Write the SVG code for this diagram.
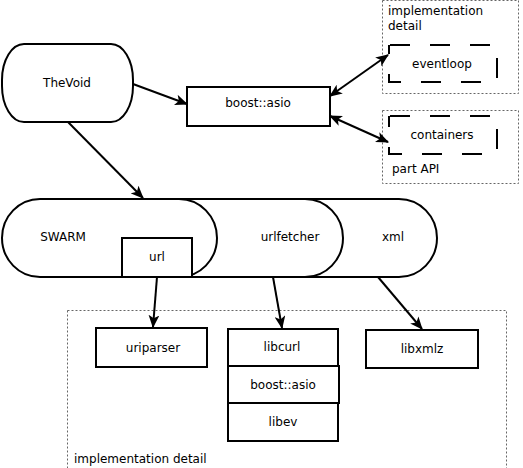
<svg xmlns="http://www.w3.org/2000/svg" width="523" height="468" viewBox="0 0 523 468">
<style>
text{font-family:"DejaVu Sans",sans-serif;font-size:12px;fill:#000}
.c{text-anchor:middle}
.box{fill:#fff;stroke:#000;stroke-width:2}
.pill{fill:#fff;stroke:#000;stroke-width:2}
.dash{fill:none;stroke:#000;stroke-width:2;stroke-dasharray:20,20;stroke-dashoffset:-1}
.dot{fill:none;stroke:#666;stroke-width:1;stroke-dasharray:2,2}
.ln{fill:none;stroke:#000;stroke-width:2}
</style>
<defs>
<marker id="ah" viewBox="0 0 12 10" refX="11" refY="5" markerWidth="13" markerHeight="11" markerUnits="userSpaceOnUse" orient="auto-start-reverse">
<path d="M0,0 L12,5 L0,10 L3,5 z" fill="#000"/>
</marker>
</defs>
<rect width="523" height="468" fill="#fff"/>
<g id="impl-top">
<rect class="dot" x="382.5" y="0.5" width="136" height="93"/>
<text x="388" y="15">implementation</text>
<text x="388" y="30">detail</text>
</g>
<g id="partapi">
<rect class="dot" x="382.5" y="110.5" width="136" height="73"/>
<text x="392" y="173">part API</text>
</g>
<g id="impl-bottom">
<rect class="dot" x="67.5" y="310.5" width="439" height="170"/>
<text x="74" y="463">implementation detail</text>
</g>
<g id="thevoid">
<rect class="pill" x="2" y="44" width="131" height="78" rx="22" ry="36"/>
<text class="c" x="67" y="87">TheVoid</text>
</g>
<g id="boostasio">
<rect class="box" x="187" y="87" width="143" height="39"/>
<text class="c" x="258" y="107">boost::asio</text>
</g>
<g id="eventloop">
<path class="dash" d="M389,45 H497 V82 H389 Z"/>
<text class="c" x="442" y="68">eventloop</text>
</g>
<g id="containers">
<path class="dash" d="M389,116 H497 V154 H389 Z"/>
<text class="c" x="442" y="139">containers</text>
</g>
<g id="xml">
<rect class="pill" x="220" y="199" width="217" height="78" rx="38" ry="39"/>
<text class="c" x="393" y="241">xml</text>
</g>
<g id="urlfetcher">
<rect class="pill" x="110" y="199" width="233" height="78" rx="38" ry="39"/>
<text class="c" x="290" y="241">urlfetcher</text>
</g>
<g id="swarm">
<rect class="pill" x="2" y="199" width="215" height="78" rx="38" ry="39"/>
<text class="c" x="63" y="241">SWARM</text>
</g>
<g id="url">
<rect class="box" x="122" y="238" width="70" height="39"/>
<text class="c" x="157" y="261">url</text>
</g>
<g id="uriparser">
<rect class="box" x="96" y="328" width="111" height="39"/>
<text class="c" x="153" y="352">uriparser</text>
</g>
<g id="libcurl">
<rect class="box" x="228" y="329" width="110" height="37"/>
<text class="c" x="282" y="351">libcurl</text>
</g>
<g id="boostasio2">
<rect class="box" x="228" y="366" width="111" height="37"/>
<text class="c" x="283" y="389">boost::asio</text>
</g>
<g id="libev">
<rect class="box" x="228" y="403" width="110" height="38"/>
<text class="c" x="283" y="426">libev</text>
</g>
<g id="libxmlz">
<rect class="box" x="366" y="330" width="112" height="38"/>
<text class="c" x="422" y="353">libxmlz</text>
</g>
<g id="connectors">
<line class="ln" x1="133" y1="84" x2="187" y2="104" marker-end="url(#ah)"/>
<line class="ln" x1="68" y1="122" x2="143" y2="198" marker-end="url(#ah)"/>
<line class="ln" x1="330" y1="96" x2="388" y2="55" marker-start="url(#ah)" marker-end="url(#ah)"/>
<line class="ln" x1="330" y1="116" x2="388" y2="142" marker-start="url(#ah)" marker-end="url(#ah)"/>
<line class="ln" x1="157" y1="277" x2="153" y2="327" marker-end="url(#ah)"/>
<line class="ln" x1="273" y1="277" x2="282" y2="328" marker-end="url(#ah)"/>
<line class="ln" x1="378" y1="277" x2="422" y2="329" marker-end="url(#ah)"/>
</g>
</svg>
